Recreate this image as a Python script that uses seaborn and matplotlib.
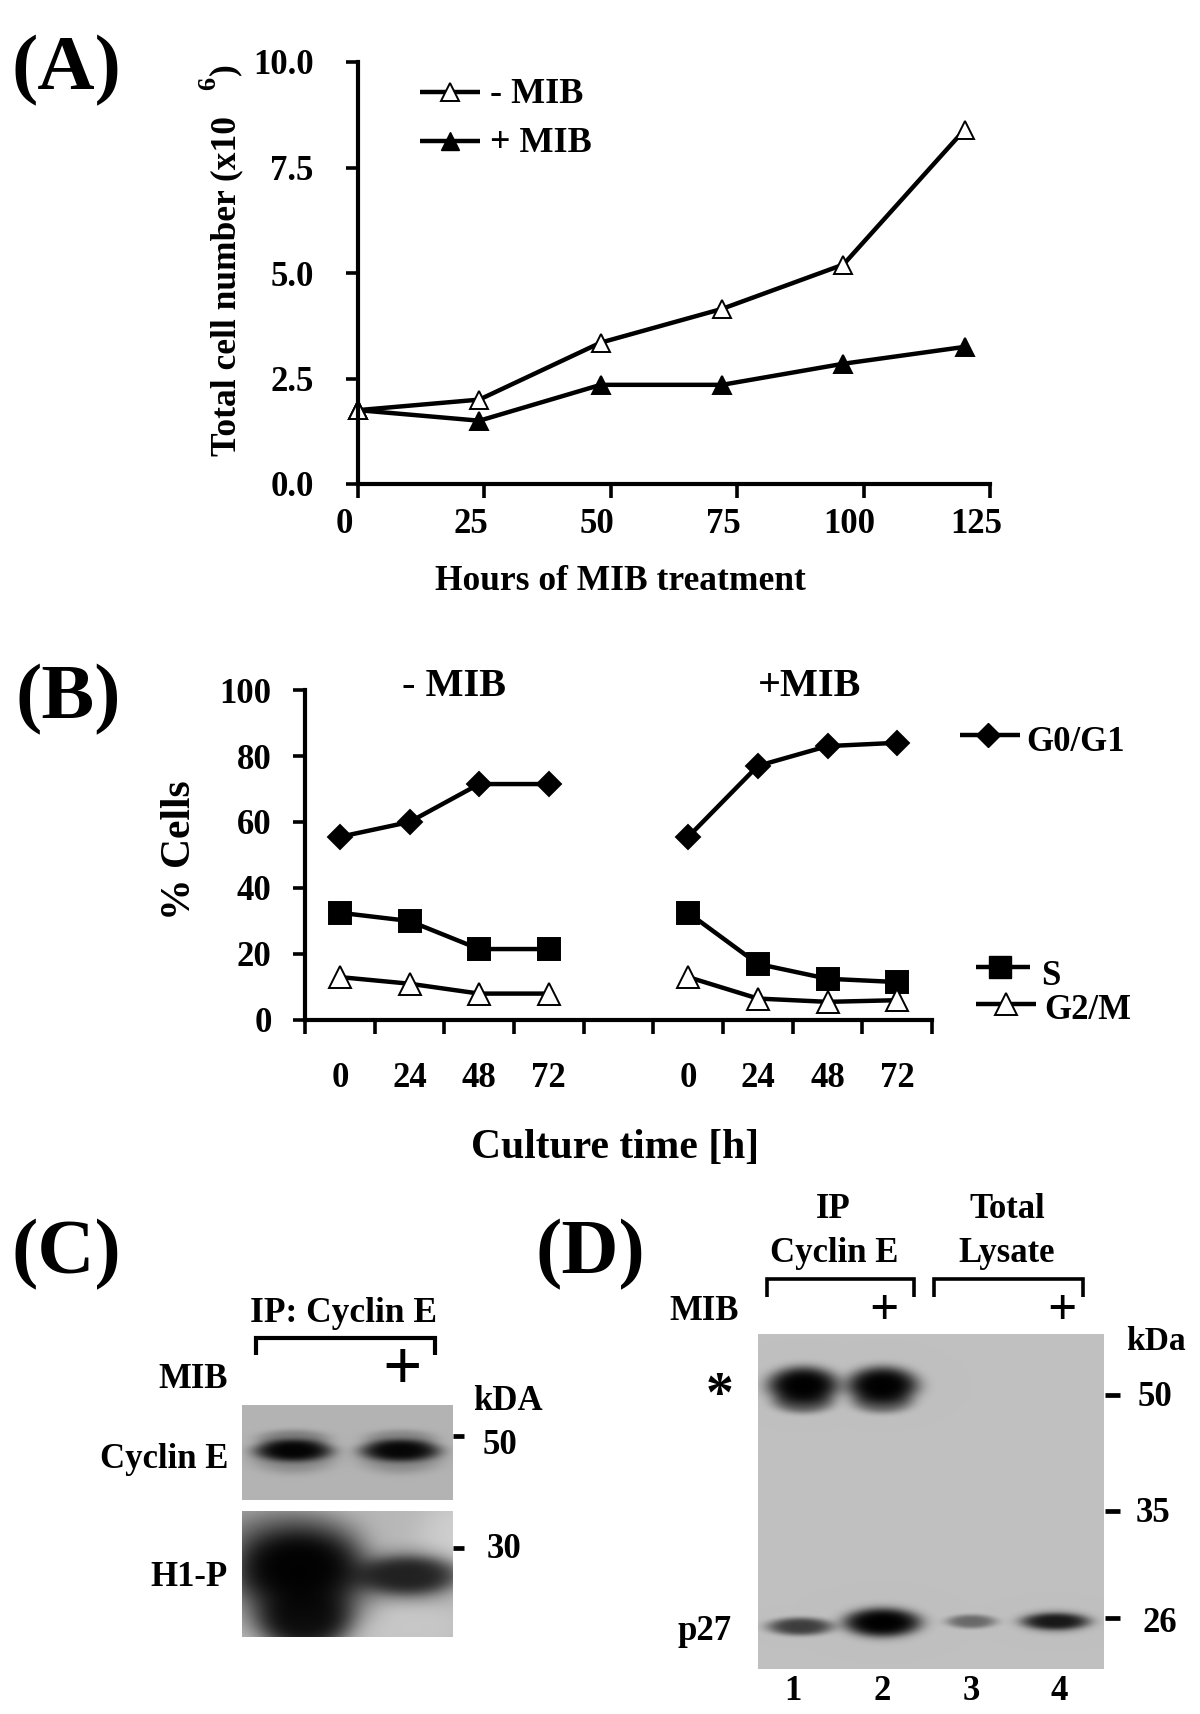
import matplotlib.pyplot as plt
import matplotlib.transforms as mtrans
import numpy as np
import pandas as pd
import seaborn as sns

W, H = 1200, 1714

# Panel A
hours = [0, 24, 48, 72, 96, 120]
minus_mib = [1.75, 2.0, 3.35, 4.15, 5.2, 8.4]
plus_mib = [1.75, 1.5, 2.35, 2.35, 2.85, 3.25]
a_xticks = [0, 25, 50, 75, 100, 125]
a_yticks = [0, 2.5, 5, 7.5, 10]
a_yticklabels = ['0.0', '2.5', '5.0', '7.5', '10.0']

# Panel B
time_labels = ['0', '24', '48', '72']
g0g1_minus = [55.5, 60, 71.5, 71.5]
g0g1_plus = [55.5, 77, 83, 84]
s_minus = [32.5, 30, 21.5, 21.5]
s_plus = [32.5, 17, 12.5, 11.5]
g2m_minus = [13, 11, 8, 8]
g2m_plus = [13, 6.5, 5.5, 6]
b_yticks = [0, 20, 40, 60, 80, 100]

# Blots: (x centre, y centre, half width, half height, darkness), in blot pixels
cyclin_bands = [(51, 45, 38, 11, 0.97), (158, 45, 39, 11, 0.95),
                (51, 33, 36, 9, 0.3), (158, 33, 36, 9, 0.25),
                (51, 52, 42, 16, 0.25), (158, 52, 42, 16, 0.25)]
h1p_bands = [(-30, 8, 130, 25, 0.12), (230, 30, 55, 50, -0.12),
             (50, 25, 70, 28, 0.3), (56, 55, 68, 40, 0.98), (62, 105, 46, 35, 0.88),
             (165, 64, 50, 19, 0.74), (165, 64, 62, 28, 0.3), (60, 85, 68, 45, 0.5),
             (165, 115, 60, 25, -0.08)]
d_bands = [(45, 51, 36, 19, 0.995), (124, 51, 36, 19, 0.995),
           (45, 68, 30, 11, 0.5), (124, 68, 30, 11, 0.45),
           (42, 292, 33, 9, 0.68), (124, 288, 36, 13, 0.995), (124, 288, 40, 17, 0.4),
           (213, 287, 25, 7, 0.45), (297, 287, 32, 8, 0.82), (297, 287, 37, 12, 0.3)]


def place(x0, y0, x1, y1):
    return fig.add_axes([x0 / W, 1 - y1 / H, (x1 - x0) / W, (y1 - y0) / H])


def draw_blot(ax, w, h, bg, bands):
    yy, xx = np.mgrid[0:h, 0:w]
    img = np.full((h, w), float(bg))
    for cx, cy, hw, hh, dark in bands:
        img *= 1 - dark * np.exp(-(((xx - cx) / hw) ** 2 + ((yy - cy) / hh) ** 2) ** 2)
    sns.heatmap(np.clip(img, 0, 1), cmap='gray', vmin=0, vmax=1, cbar=False,
                xticklabels=False, yticklabels=False, ax=ax)


def draw_series(ax, x, y, marker, size, fill):
    df = pd.DataFrame({'x': x, 'y': y})
    sns.lineplot(data=df, x='x', y='y', color='black', linewidth=3.2, marker=marker,
                 markersize=size, markerfacecolor=fill, markeredgecolor='black',
                 markeredgewidth=1.4, errorbar=None, clip_on=False, ax=ax)


sns.set_theme(style='ticks')
plt.rcParams['font.family'] = ['Liberation Serif', 'DejaVu Serif']
plt.rcParams['font.weight'] = 'bold'

fig = plt.figure(figsize=(12, 17.14), dpi=100, facecolor='white')

# (A) growth curve
ax_a = place(358, 62, 990, 484)
draw_series(ax_a, hours, minus_mib, '^', 13, 'white')
draw_series(ax_a, hours, plus_mib, '^', 13, 'black')
draw_series(ax_a, hours[:1], minus_mib[:1], '^', 13, 'white')
ax_a.set_xlim(0, 125)
ax_a.set_ylim(0, 10)
ax_a.set_xticks(a_xticks)
ax_a.set_yticks(a_yticks)
ax_a.set_yticklabels(a_yticklabels)
ax_a.tick_params(axis='x', length=10, width=2.6, labelsize=25, pad=7, color='black', labelcolor='black')
ax_a.tick_params(axis='y', length=9, width=2.6, labelsize=25, pad=23, color='black', labelcolor='black')
shift = mtrans.ScaledTranslation(-10 / 72, 0, fig.dpi_scale_trans)
for lab in ax_a.get_xticklabels():
    lab.set_transform(lab.get_transform() + shift)
ax_a.set_xlabel('')
ax_a.set_ylabel('')

# (B) cell cycle
ax_b = place(305, 690, 932, 1020)
pos_minus = [0, 1, 2, 3]
pos_plus = [5, 6, 7, 8]
for vals_m, vals_p, marker, size, fill in [(g0g1_minus, g0g1_plus, 'D', 12.5, 'black'),
                                           (s_minus, s_plus, 's', 16, 'black'),
                                           (g2m_minus, g2m_plus, '^', 16, 'white')]:
    draw_series(ax_b, pos_minus, vals_m, marker, size, fill)
    draw_series(ax_b, pos_plus, vals_p, marker, size, fill)
ax_b.set_xlim(-0.5, 8.5)
ax_b.set_ylim(0, 100)
ax_b.set_yticks(b_yticks)
ax_b.set_xticks(np.arange(-0.5, 9))
ax_b.set_xticklabels([])
ax_b.set_xticks(pos_minus + pos_plus, labels=time_labels + time_labels, minor=True)
ax_b.tick_params(axis='x', which='major', length=10, width=2.6, color='black')
ax_b.tick_params(axis='x', which='minor', length=0, labelsize=25, pad=30, labelcolor='black')
ax_b.tick_params(axis='y', length=9, width=2.6, labelsize=25, pad=15, color='black', labelcolor='black')
ax_b.set_xlabel('')
ax_b.set_ylabel('')

for ax in [ax_a, ax_b]:
    sns.despine(ax=ax)
    for side in ['left', 'bottom']:
        ax.spines[side].set_linewidth(3)
        ax.spines[side].set_color('black')

# (C) and (D) blots
draw_blot(place(242, 1405, 453, 1500), 211, 95, 0.7, cyclin_bands)
draw_blot(place(242, 1511, 453, 1637), 211, 126, 0.72, h1p_bands)
draw_blot(place(758, 1334, 1104, 1669), 346, 335, 0.75, d_bands)

# everything else sits on a pixel overlay
ov = fig.add_axes([0, 0, 1, 1], zorder=5)
ov.set_xlim(0, W)
ov.set_ylim(H, 0)
ov.axis('off')
ov.patch.set_alpha(0)


def txt(x, y, s, size=25, ha='center', **kw):
    ov.text(x, y + 3, s, fontsize=size, ha=ha, va='center', color='black',
            fontweight='bold', **kw)


def seg(xs, ys, lw=3.2):
    ov.plot(xs, ys, color='black', linewidth=lw, solid_capstyle='butt', solid_joinstyle='miter')


# panel letters
txt(66, 68, '(A)', 57)
txt(68, 697, '(B)', 57)
txt(66, 1252, '(C)', 57)
txt(590, 1252, '(D)', 57)

# A labels and legend
txt(620, 578, 'Hours of MIB treatment', 25.5)
ov.text(227, 456, 'Total cell number (x10', fontsize=25.5, rotation=90, ha='center',
        va='bottom', color='black')
txt(209, 80, '6', 19, rotation=90)
txt(225, 66, ')', 25.5, rotation=90)
seg([420, 480], [92, 92], 3.2)
ov.plot(450, 92, '^', ms=13, mfc='white', mec='black', mew=1.4)
txt(490, 91, '- MIB', 26, ha='left')
seg([420, 480], [141, 141], 3.2)
ov.plot(450, 141, '^', ms=13, mfc='black', mec='black')
txt(490, 140, '+ MIB', 26, ha='left')

# B labels and legend
txt(454, 683, '- MIB', 29)
txt(810, 683, '+MIB', 29)
txt(180, 847, '% Cells', 30, rotation=90)
txt(615, 1145, 'Culture time [h]', 30)
seg([960, 1020], [735, 735], 3.2)
ov.plot(988, 735, 'D', ms=12.5, mfc='black', mec='black')
txt(1026, 739, 'G0/G1', 25, ha='left')
seg([976, 1030], [967, 967], 3.2)
ov.plot(1000, 967, 's', ms=16, mfc='black', mec='black')
txt(1041, 973, 'S', 25, ha='left')
seg([976, 1036], [1004, 1004], 3.2)
ov.plot(1006, 1004, '^', ms=16, mfc='white', mec='black', mew=1.4)
txt(1044, 1007, 'G2/M', 25, ha='left')

# C labels
txt(343, 1310, 'IP: Cyclin E', 25.5)
seg([255.5, 255.5, 434.5, 434.5], [1355, 1338, 1338, 1355], 3)
txt(228, 1377, 'MIB', 25, ha='right')
txt(402, 1369, '+', 50)
txt(508, 1398, 'kDA', 25)
txt(228, 1456, 'Cyclin E', 25, ha='right')
txt(228, 1574, 'H1-P', 25, ha='right')
seg([453, 464], [1436, 1436], 3.4)
seg([453, 464], [1548, 1548], 3.4)
txt(483, 1442, '50', 25, ha='left')
txt(487, 1546, '30', 25, ha='left')

# D labels
txt(833, 1207, 'IP', 25)
txt(834, 1250, 'Cyclin E', 25)
txt(1007, 1207, 'Total', 25)
txt(1007, 1250, 'Lysate', 25)
seg([767, 767, 913.5, 913.5], [1297, 1279, 1279, 1297], 2.6)
seg([934, 934, 1083, 1083], [1297, 1279, 1279, 1297], 2.6)
txt(739, 1309, 'MIB', 25, ha='right')
txt(884, 1309, '+', 37)
txt(1062, 1309, '+', 37)
txt(1156, 1339, 'kDa', 24)
txt(720, 1394, '*', 40)
txt(705, 1628, 'p27', 25)
for y, lab, x, dy in [(1395, '50', 1138, 0), (1511, '35', 1136, 0), (1618, '26', 1142, 3)]:
    seg([1105, 1120], [y, y], 3.4)
    txt(x, y + dy, lab, 25, ha='left')
for x, lab in [(793, '1'), (882, '2'), (971, '3'), (1059, '4')]:
    txt(x, 1689, lab, 25)

fig.savefig('out.png', dpi=100)
